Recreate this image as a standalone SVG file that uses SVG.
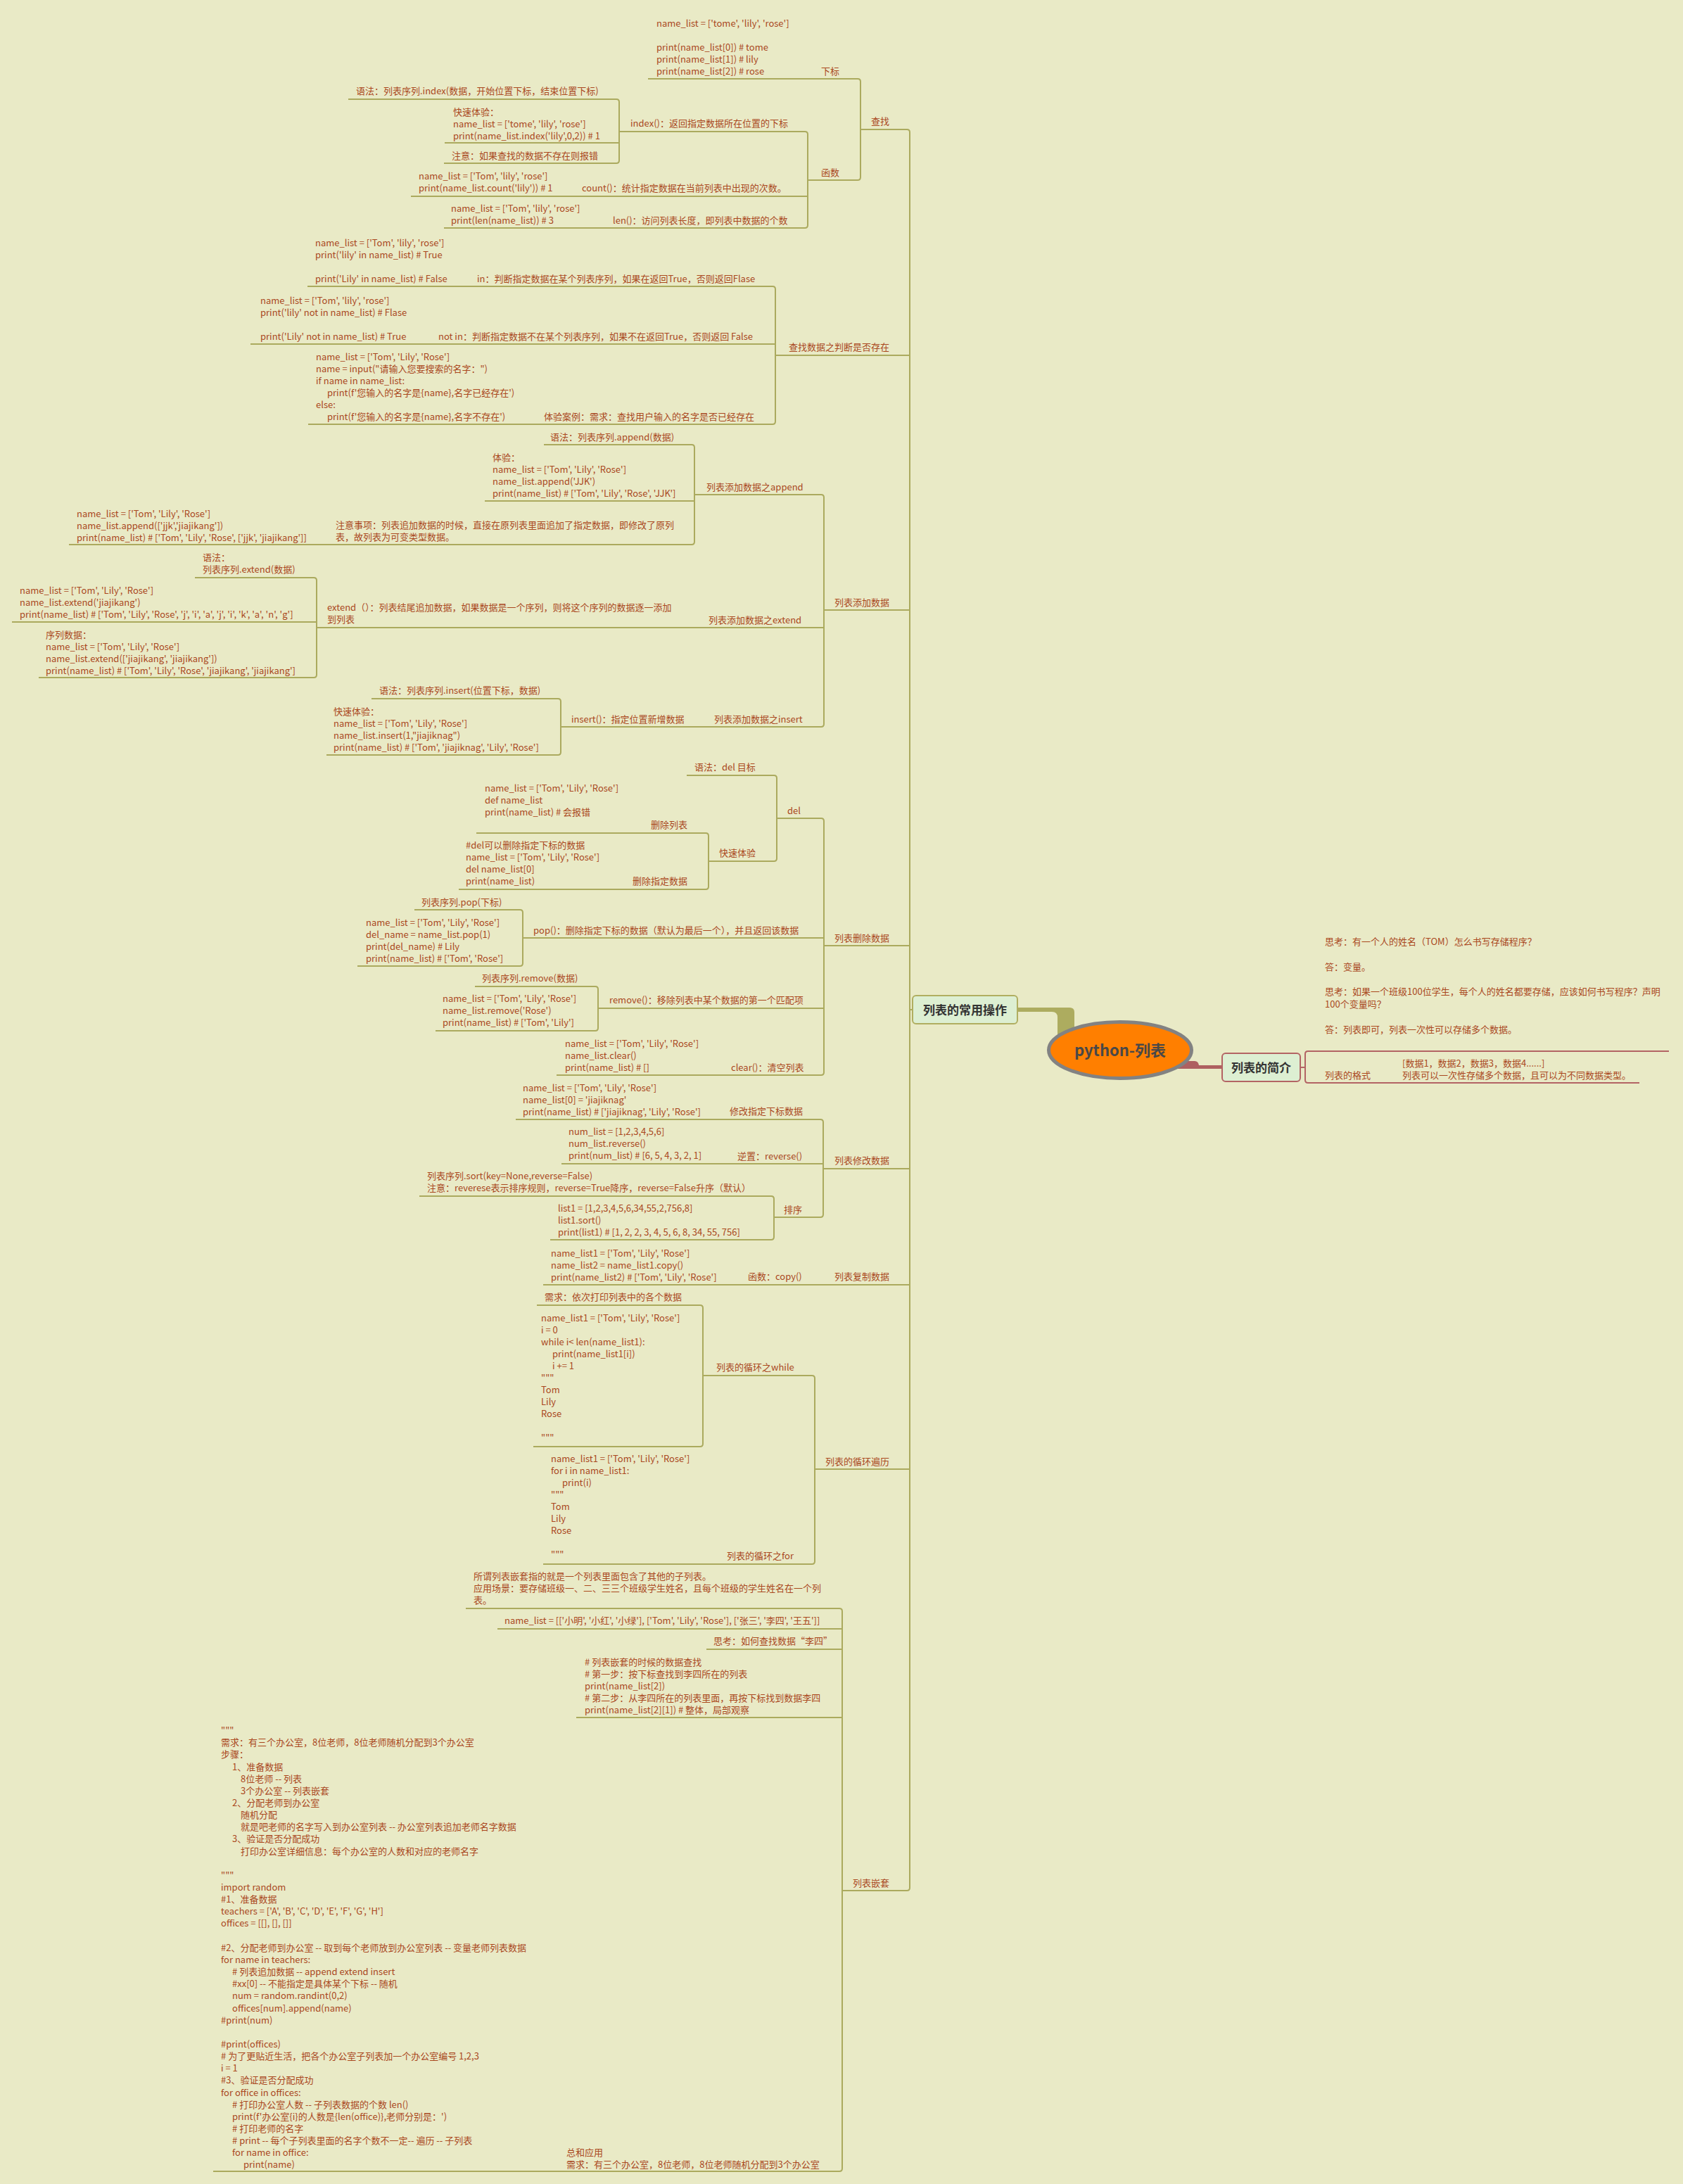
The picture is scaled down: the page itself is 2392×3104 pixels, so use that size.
<svg xmlns="http://www.w3.org/2000/svg" width="2392" height="3104" viewBox="0 0 2392 3104" xml:space="preserve">
<style>
.t{font-family:"Noto Sans CJK SC","Noto Sans",sans-serif;font-size:13px;fill:#A9481E}
.l{stroke:#ABAA5E;stroke-width:2;fill:none}
.r{stroke:#B36464;stroke-width:2;fill:none}
.bx{font-family:"Noto Sans CJK SC",sans-serif;font-size:17px;font-weight:bold;fill:#333333}
</style>
<rect x="0" y="0" width="2392" height="3104" fill="#E9EAC6"/>
<g id="connectors">
<g class="l">
<path d="M1223 184 H1289 Q1293 184 1293 188 V2683 Q1293 2687 1289 2687 H1197"/>
<path d="M1102 505 H1293 M1171 867 H1293 M1171 1344 H1293 M1170 1661 H1293 M772 1826 H1293 M1158 2088 H1293 M1293 1435 H1297"/>
<path d="M921 112 H1219 Q1223 112 1223 116 V252 Q1223 256 1219 256 H1148"/>
<path d="M880 187 H1144 Q1148 187 1148 191 V320 Q1148 324 1144 324 H631 M584 279 H1148"/>
<path d="M495 141 H876 Q880 141 880 145 V228 Q880 232 876 232 H631 M632 203 H880"/>
<path d="M437 407 H1098 Q1102 407 1102 411 V599 Q1102 603 1098 603 H438 M356 489 H1102"/>
<path d="M987 703 H1167 Q1171 703 1171 707 V1029 Q1171 1033 1167 1033 H797 M450 892 H1171"/>
<path d="M773 632 H983 Q987 632 987 636 V770 Q987 774 983 774 H98 M689 712 H987"/>
<path d="M277 821 H446 Q450 821 450 825 V959 Q450 963 446 963 H55 M17 884 H450"/>
<path d="M528 993 H793 Q797 993 797 997 V1069 Q797 1073 793 1073 H464"/>
<path d="M1104 1163 H1167 Q1171 1163 1171 1167 V1524 Q1171 1528 1167 1528 H791 M743 1333 H1171 M850 1433 H1171"/>
<path d="M976 1102 H1100 Q1104 1102 1104 1106 V1220 Q1104 1224 1100 1224 H1007"/>
<path d="M677 1184 H1003 Q1007 1184 1007 1188 V1260 Q1007 1264 1003 1264 H652"/>
<path d="M589 1293 H739 Q743 1293 743 1297 V1369 Q743 1373 739 1373 H508"/>
<path d="M675 1402 H846 Q850 1402 850 1406 V1461 Q850 1465 846 1465 H619"/>
<path d="M733 1591 H1166 Q1170 1591 1170 1595 V1726 Q1170 1730 1166 1730 H1100 M798 1654 H1170"/>
<path d="M596 1700 H1096 Q1100 1700 1100 1704 V1758 Q1100 1762 1096 1762 H782"/>
<path d="M999 1955 H1154 Q1158 1955 1158 1959 V2219 Q1158 2223 1154 2223 H772"/>
<path d="M763 1855 H995 Q999 1855 999 1859 V2052 Q999 2056 995 2056 H758"/>
<path d="M662 2286 H1193 Q1197 2286 1197 2290 V3082 Q1197 3086 1193 3086 H303 M707 2315 H1197 M1004 2344 H1197 M819 2441 H1197"/>
</g>
<path class="r" d="M2372 1494 H1859 Q1855 1494 1855 1498 V1535 Q1855 1539 1859 1539 H2330 M1848 1517 H1855"/>
<path d="M1446 1432 H1520 Q1527 1432 1527 1439 V1478 H1503 V1446 Q1503 1438 1495 1438 H1446 Z" fill="#ADAC5F"/>
<path d="M1670 1508 H1698 Q1703 1508 1704 1514 H1738 V1519 H1670 Z" fill="#AE6060"/>
</g>
<g id="root"><ellipse cx="1592" cy="1492.5" rx="101.5" ry="40" fill="#FF7F00" stroke="#828282" stroke-width="5"/><text x="1592" y="1501" text-anchor="middle" font-family="Noto Sans CJK SC, sans-serif" font-size="22" font-weight="bold" fill="#484848">python-列表</text></g>
<g id="n-ops"><rect x="1297" y="1415" width="149" height="40" rx="5" fill="#DDEFD2" stroke="#B0AE60" stroke-width="2"/><text class="bx" x="1371.5" y="1442" text-anchor="middle">列表的常用操作</text></g>
<g id="n-intro"><rect x="1737" y="1497" width="111" height="40" rx="5" fill="#DDEFD2" stroke="#B36464" stroke-width="2"/><text class="bx" x="1792.5" y="1524" text-anchor="middle">列表的简介</text></g>
<g id="n-intro-think"><text class="t"><tspan x="1883" y="1343">思考：有一个人的姓名（TOM）怎么书写存储程序？</tspan><tspan x="1883" y="1378.6">答：变量。</tspan><tspan x="1883" y="1414.2">思考：如果一个班级100位学生，每个人的姓名都要存储，应该如何书写程序？声明</tspan><tspan x="1883" y="1432">100个变量吗？</tspan><tspan x="1883" y="1467.6">答：列表即可，列表一次性可以存储多个数据。</tspan></text></g>
<g id="n-format"><text class="t" x="1883" y="1533">列表的格式</text></g>
<g id="n-format-desc"><text class="t"><tspan x="1993" y="1516">[数据1，数据2，数据3，数据4......]</tspan><tspan x="1993" y="1533">列表可以一次性存储多个数据，且可以为不同数据类型。</tspan></text></g>
<g id="n-find"><text class="t" x="1238" y="177">查找</text></g>
<g id="n-sub"><text class="t" x="1167" y="106">下标</text></g>
<g id="n-sub-code"><text class="t"><tspan x="933" y="38">name_list = ['tome', 'lily', 'rose']</tspan><tspan x="933" y="72">print(name_list[0]) # tome</tspan><tspan x="933" y="89">print(name_list[1]) # lily</tspan><tspan x="933" y="106">print(name_list[2]) # rose</tspan></text></g>
<g id="n-func"><text class="t" x="1167" y="250">函数</text></g>
<g id="n-index"><text class="t" x="896" y="180">index()：返回指定数据所在位置的下标</text></g>
<g id="n-index-syntax"><text class="t" x="506" y="134">语法：列表序列.index(数据，开始位置下标，结束位置下标)</text></g>
<g id="n-index-demo"><text class="t"><tspan x="644" y="164">快速体验：</tspan><tspan x="644" y="181">name_list = ['tome', 'lily', 'rose']</tspan><tspan x="644" y="198">print(name_list.index('lily',0,2)) # 1</tspan></text></g>
<g id="n-index-note"><text class="t" x="642" y="226">注意：如果查找的数据不存在则报错</text></g>
<g id="n-count"><text class="t" x="827" y="272">count()：统计指定数据在当前列表中出现的次数。</text></g>
<g id="n-count-code"><text class="t"><tspan x="595" y="255">name_list = ['Tom', 'lily', 'rose']</tspan><tspan x="595" y="272">print(name_list.count('lily')) # 1</tspan></text></g>
<g id="n-len"><text class="t" x="871" y="318">len()：访问列表长度，即列表中数据的个数</text></g>
<g id="n-len-code"><text class="t"><tspan x="641" y="301">name_list = ['Tom', 'lily', 'rose']</tspan><tspan x="641" y="318">print(len(name_list)) # 3</tspan></text></g>
<g id="n-exist"><text class="t" x="1121" y="498">查找数据之判断是否存在</text></g>
<g id="n-in"><text class="t" x="678" y="401">in：判断指定数据在某个列表序列，如果在返回True，否则返回Flase</text></g>
<g id="n-in-code"><text class="t"><tspan x="448" y="350">name_list = ['Tom', 'lily', 'rose']</tspan><tspan x="448" y="367">print('lily' in name_list) # True</tspan><tspan x="448" y="401">print('Lily' in name_list) # False</tspan></text></g>
<g id="n-notin"><text class="t" x="623" y="483">not in：判断指定数据不在某个列表序列，如果不在返回True，否则返回 False</text></g>
<g id="n-notin-code"><text class="t"><tspan x="370" y="432">name_list = ['Tom', 'lily', 'rose']</tspan><tspan x="370" y="449">print('lily' not in name_list) # Flase</tspan><tspan x="370" y="483">print('Lily' not in name_list) # True</tspan></text></g>
<g id="n-case"><text class="t" x="773" y="597">体验案例：需求：查找用户输入的名字是否已经存在</text></g>
<g id="n-case-code"><text class="t"><tspan x="449" y="512">name_list = ['Tom', 'Lily', 'Rose']</tspan><tspan x="449" y="529">name = input("请输入您要搜索的名字：")</tspan><tspan x="449" y="546">if name in name_list:</tspan><tspan x="465" y="563">print(f'您输入的名字是{name},名字已经存在')</tspan><tspan x="449" y="580">else:</tspan><tspan x="465" y="597">print(f'您输入的名字是{name},名字不存在')</tspan></text></g>
<g id="n-add"><text class="t" x="1186" y="861">列表添加数据</text></g>
<g id="n-append"><text class="t" x="1004" y="697">列表添加数据之append</text></g>
<g id="n-append-syntax"><text class="t" x="782" y="626">语法：列表序列.append(数据)</text></g>
<g id="n-append-demo"><text class="t"><tspan x="700" y="655">体验：</tspan><tspan x="700" y="672">name_list = ['Tom', 'Lily', 'Rose']</tspan><tspan x="700" y="689">name_list.append('JJK')</tspan><tspan x="700" y="706">print(name_list) # ['Tom', 'Lily', 'Rose', 'JJK']</tspan></text></g>
<g id="n-append-note"><text class="t"><tspan x="477" y="751">注意事项：列表追加数据的时候，直接在原列表里面追加了指定数据，即修改了原列</tspan><tspan x="477" y="768">表，故列表为可变类型数据。</tspan></text></g>
<g id="n-append-note-code"><text class="t"><tspan x="109" y="735">name_list = ['Tom', 'Lily', 'Rose']</tspan><tspan x="109" y="752">name_list.append(['jjk','jiajikang'])</tspan><tspan x="109" y="769">print(name_list) # ['Tom', 'Lily', 'Rose', ['jjk', 'jiajikang']]</tspan></text></g>
<g id="n-extend"><text class="t" x="1007" y="886">列表添加数据之extend</text></g>
<g id="n-extend-fn"><text class="t"><tspan x="465" y="868">extend（）：列表结尾追加数据，如果数据是一个序列，则将这个序列的数据逐一添加</tspan><tspan x="465" y="885">到列表</tspan></text></g>
<g id="n-extend-syntax"><text class="t"><tspan x="288" y="797">语法：</tspan><tspan x="288" y="814">列表序列.extend(数据)</tspan></text></g>
<g id="n-extend-code"><text class="t"><tspan x="28" y="844">name_list = ['Tom', 'Lily', 'Rose']</tspan><tspan x="28" y="861">name_list.extend('jiajikang')</tspan><tspan x="28" y="878">print(name_list) # ['Tom', 'Lily', 'Rose', 'j', 'i', 'a', 'j', 'i', 'k', 'a', 'n', 'g']</tspan></text></g>
<g id="n-extend-seq"><text class="t"><tspan x="65" y="907">序列数据：</tspan><tspan x="65" y="924">name_list = ['Tom', 'Lily', 'Rose']</tspan><tspan x="65" y="941">name_list.extend(['jiajikang', 'jiajikang'])</tspan><tspan x="65" y="958">print(name_list)  # ['Tom', 'Lily', 'Rose', 'jiajikang', 'jiajikang']</tspan></text></g>
<g id="n-insert"><text class="t" x="1015" y="1027">列表添加数据之insert</text></g>
<g id="n-insert-fn"><text class="t" x="812" y="1027">insert()：指定位置新增数据</text></g>
<g id="n-insert-syntax"><text class="t" x="539" y="986">语法：列表序列.insert(位置下标，数据)</text></g>
<g id="n-insert-demo"><text class="t"><tspan x="474" y="1016">快速体验：</tspan><tspan x="474" y="1033">name_list = ['Tom', 'Lily', 'Rose']</tspan><tspan x="474" y="1050">name_list.insert(1,"jiajiknag")</tspan><tspan x="474" y="1067">print(name_list)  # ['Tom', 'jiajiknag', 'Lily', 'Rose']</tspan></text></g>
<g id="n-delete"><text class="t" x="1186" y="1338">列表删除数据</text></g>
<g id="n-del"><text class="t" x="1119" y="1157">del</text></g>
<g id="n-del-syntax"><text class="t" x="987" y="1095">语法：del 目标</text></g>
<g id="n-del-demo"><text class="t" x="1022" y="1217">快速体验</text></g>
<g id="n-del-list"><text class="t" x="925" y="1177">删除列表</text></g>
<g id="n-del-list-code"><text class="t"><tspan x="689" y="1125">name_list = ['Tom', 'Lily', 'Rose']</tspan><tspan x="689" y="1142">def name_list</tspan><tspan x="689" y="1159">print(name_list) # 会报错</tspan></text></g>
<g id="n-del-idx"><text class="t" x="899" y="1257">删除指定数据</text></g>
<g id="n-del-idx-code"><text class="t"><tspan x="662" y="1206">#del可以删除指定下标的数据</tspan><tspan x="662" y="1223">name_list = ['Tom', 'Lily', 'Rose']</tspan><tspan x="662" y="1240">del name_list[0]</tspan><tspan x="662" y="1257">print(name_list)</tspan></text></g>
<g id="n-pop"><text class="t" x="758" y="1327">pop()：删除指定下标的数据（默认为最后一个），并且返回该数据</text></g>
<g id="n-pop-syntax"><text class="t" x="599" y="1287">列表序列.pop(下标)</text></g>
<g id="n-pop-code"><text class="t"><tspan x="520" y="1316">name_list = ['Tom', 'Lily', 'Rose']</tspan><tspan x="520" y="1333">del_name = name_list.pop(1)</tspan><tspan x="520" y="1350">print(del_name) # Lily</tspan><tspan x="520" y="1367">print(name_list) # ['Tom', 'Rose']</tspan></text></g>
<g id="n-remove"><text class="t" x="866" y="1426">remove()：移除列表中某个数据的第一个匹配项</text></g>
<g id="n-remove-syntax"><text class="t" x="685" y="1395">列表序列.remove(数据)</text></g>
<g id="n-remove-code"><text class="t"><tspan x="629" y="1424">name_list = ['Tom', 'Lily', 'Rose']</tspan><tspan x="629" y="1441">name_list.remove('Rose')</tspan><tspan x="629" y="1458">print(name_list) # ['Tom', 'Lily']</tspan></text></g>
<g id="n-clear"><text class="t" x="1039" y="1522">clear()：清空列表</text></g>
<g id="n-clear-code"><text class="t"><tspan x="803" y="1488">name_list = ['Tom', 'Lily', 'Rose']</tspan><tspan x="803" y="1505">name_list.clear()</tspan><tspan x="803" y="1522">print(name_list) # []</tspan></text></g>
<g id="n-modify"><text class="t" x="1186" y="1654">列表修改数据</text></g>
<g id="n-mod-idx"><text class="t" x="1037" y="1584">修改指定下标数据</text></g>
<g id="n-mod-idx-code"><text class="t"><tspan x="743" y="1551">name_list = ['Tom', 'Lily', 'Rose']</tspan><tspan x="743" y="1568">name_list[0] = 'jiajiknag'</tspan><tspan x="743" y="1585">print(name_list) # ['jiajiknag', 'Lily', 'Rose']</tspan></text></g>
<g id="n-reverse"><text class="t" x="1048" y="1648">逆置：reverse()</text></g>
<g id="n-reverse-code"><text class="t"><tspan x="808" y="1613">num_list = [1,2,3,4,5,6]</tspan><tspan x="808" y="1630">num_list.reverse()</tspan><tspan x="808" y="1647">print(num_list) # [6, 5, 4, 3, 2, 1]</tspan></text></g>
<g id="n-sort"><text class="t" x="1114" y="1724">排序</text></g>
<g id="n-sort-syntax"><text class="t"><tspan x="607" y="1676">列表序列.sort(key=None,reverse=False)</tspan><tspan x="607" y="1693">注意：reverese表示排序规则，reverse=True降序，reverse=False升序（默认）</tspan></text></g>
<g id="n-sort-code"><text class="t"><tspan x="793" y="1722">list1 = [1,2,3,4,5,6,34,55,2,756,8]</tspan><tspan x="793" y="1739">list1.sort()</tspan><tspan x="793" y="1756">print(list1) # [1, 2, 2, 3, 4, 5, 6, 8, 34, 55, 756]</tspan></text></g>
<g id="n-copy"><text class="t" x="1186" y="1819">列表复制数据</text></g>
<g id="n-copy-fn"><text class="t" x="1063" y="1819">函数：copy()</text></g>
<g id="n-copy-code"><text class="t"><tspan x="783" y="1786">name_list1 = ['Tom', 'Lily', 'Rose']</tspan><tspan x="783" y="1803">name_list2 = name_list1.copy()</tspan><tspan x="783" y="1820">print(name_list2) # ['Tom', 'Lily', 'Rose']</tspan></text></g>
<g id="n-loop"><text class="t" x="1173" y="2082">列表的循环遍历</text></g>
<g id="n-while"><text class="t" x="1018" y="1948">列表的循环之while</text></g>
<g id="n-while-req"><text class="t" x="774" y="1848">需求：依次打印列表中的各个数据</text></g>
<g id="n-while-code"><text class="t"><tspan x="769" y="1878">name_list1 = ['Tom', 'Lily', 'Rose']</tspan><tspan x="769" y="1895">i = 0</tspan><tspan x="769" y="1912">while i&lt; len(name_list1):</tspan><tspan x="785" y="1929">print(name_list1[i])</tspan><tspan x="785" y="1946">i += 1</tspan><tspan x="769" y="1963">"""</tspan><tspan x="769" y="1980">Tom</tspan><tspan x="769" y="1997">Lily</tspan><tspan x="769" y="2014">Rose</tspan><tspan x="769" y="2048">"""</tspan></text></g>
<g id="n-for"><text class="t" x="1033" y="2216">列表的循环之for</text></g>
<g id="n-for-code"><text class="t"><tspan x="783" y="2078">name_list1 = ['Tom', 'Lily', 'Rose']</tspan><tspan x="783" y="2095">for i in name_list1:</tspan><tspan x="799" y="2112">print(i)</tspan><tspan x="783" y="2129">"""</tspan><tspan x="783" y="2146">Tom</tspan><tspan x="783" y="2163">Lily</tspan><tspan x="783" y="2180">Rose</tspan><tspan x="783" y="2214">"""</tspan></text></g>
<g id="n-nest"><text class="t" x="1212" y="2681">列表嵌套</text></g>
<g id="n-nest-desc"><text class="t"><tspan x="673" y="2245">所谓列表嵌套指的就是一个列表里面包含了其他的子列表。</tspan><tspan x="673" y="2262">应用场景：要存储班级一、二、三三个班级学生姓名，且每个班级的学生姓名在一个列</tspan><tspan x="673" y="2279">表。</tspan></text></g>
<g id="n-nest-def"><text class="t" x="717" y="2308">name_list = [['小明', '小红', '小绿'], ['Tom', 'Lily', 'Rose'], ['张三', '李四', '王五']]</text></g>
<g id="n-nest-think"><text class="t" x="1014" y="2337">思考：如何查找数据“李四”</text></g>
<g id="n-nest-code"><text class="t"><tspan x="831" y="2367"># 列表嵌套的时候的数据查找</tspan><tspan x="831" y="2384"># 第一步：按下标查找到李四所在的列表</tspan><tspan x="831" y="2401">print(name_list[2])</tspan><tspan x="831" y="2418"># 第二步：从李四所在的列表里面，再按下标找到数据李四</tspan><tspan x="831" y="2435">print(name_list[2][1]) # 整体，局部观察</tspan></text></g>
<g id="n-nest-app"><text class="t"><tspan x="805" y="3064">总和应用</tspan><tspan x="805" y="3081">需求：有三个办公室，8位老师，8位老师随机分配到3个办公室</tspan></text></g>
<g id="n-nest-app-code"><text class="t"><tspan x="314" y="2464">"""</tspan><tspan x="314" y="2481.2">需求：有三个办公室，8位老师，8位老师随机分配到3个办公室</tspan><tspan x="314" y="2498.3">步骤：</tspan><tspan x="330" y="2515.5">1、准备数据</tspan><tspan x="342" y="2532.6">8位老师 -- 列表</tspan><tspan x="342" y="2549.8">3个办公室 -- 列表嵌套</tspan><tspan x="330" y="2566.9">2、分配老师到办公室</tspan><tspan x="342" y="2584.1">随机分配</tspan><tspan x="342" y="2601.2">就是吧老师的名字写入到办公室列表 -- 办公室列表追加老师名字数据</tspan><tspan x="330" y="2618.4">3、验证是否分配成功</tspan><tspan x="342" y="2635.5">打印办公室详细信息：每个办公室的人数和对应的老师名字</tspan><tspan x="314" y="2669.8">"""</tspan><tspan x="314" y="2687">import random</tspan><tspan x="314" y="2704.1">#1、准备数据</tspan><tspan x="314" y="2721.3">teachers = ['A', 'B', 'C', 'D', 'E', 'F', 'G', 'H']</tspan><tspan x="314" y="2738.4">offices = [[], [], []]</tspan><tspan x="314" y="2772.7">#2、分配老师到办公室 -- 取到每个老师放到办公室列表 -- 变量老师列表数据</tspan><tspan x="314" y="2789.9">for name in teachers:</tspan><tspan x="330" y="2807"># 列表追加数据 -- append  extend  insert</tspan><tspan x="330" y="2824.2">#xx[0] -- 不能指定是具体某个下标 -- 随机</tspan><tspan x="330" y="2841.3">num = random.randint(0,2)</tspan><tspan x="330" y="2858.5">offices[num].append(name)</tspan><tspan x="314" y="2875.6">#print(num)</tspan><tspan x="314" y="2909.9">#print(offices)</tspan><tspan x="314" y="2927.1"># 为了更贴近生活，把各个办公室子列表加一个办公室编号 1,2,3</tspan><tspan x="314" y="2944.2">i = 1</tspan><tspan x="314" y="2961.4">#3、验证是否分配成功</tspan><tspan x="314" y="2978.5">for office in offices:</tspan><tspan x="330" y="2995.7"># 打印办公室人数 -- 子列表数据的个数 len()</tspan><tspan x="330" y="3012.8">print(f'办公室{i}的人数是{len(office)},老师分别是：')</tspan><tspan x="330" y="3030"># 打印老师的名字</tspan><tspan x="330" y="3047.1"># print -- 每个子列表里面的名字个数不一定-- 遍历 -- 子列表</tspan><tspan x="330" y="3064.3">for name in office:</tspan><tspan x="346" y="3081.4">print(name)</tspan></text></g>
</svg>
